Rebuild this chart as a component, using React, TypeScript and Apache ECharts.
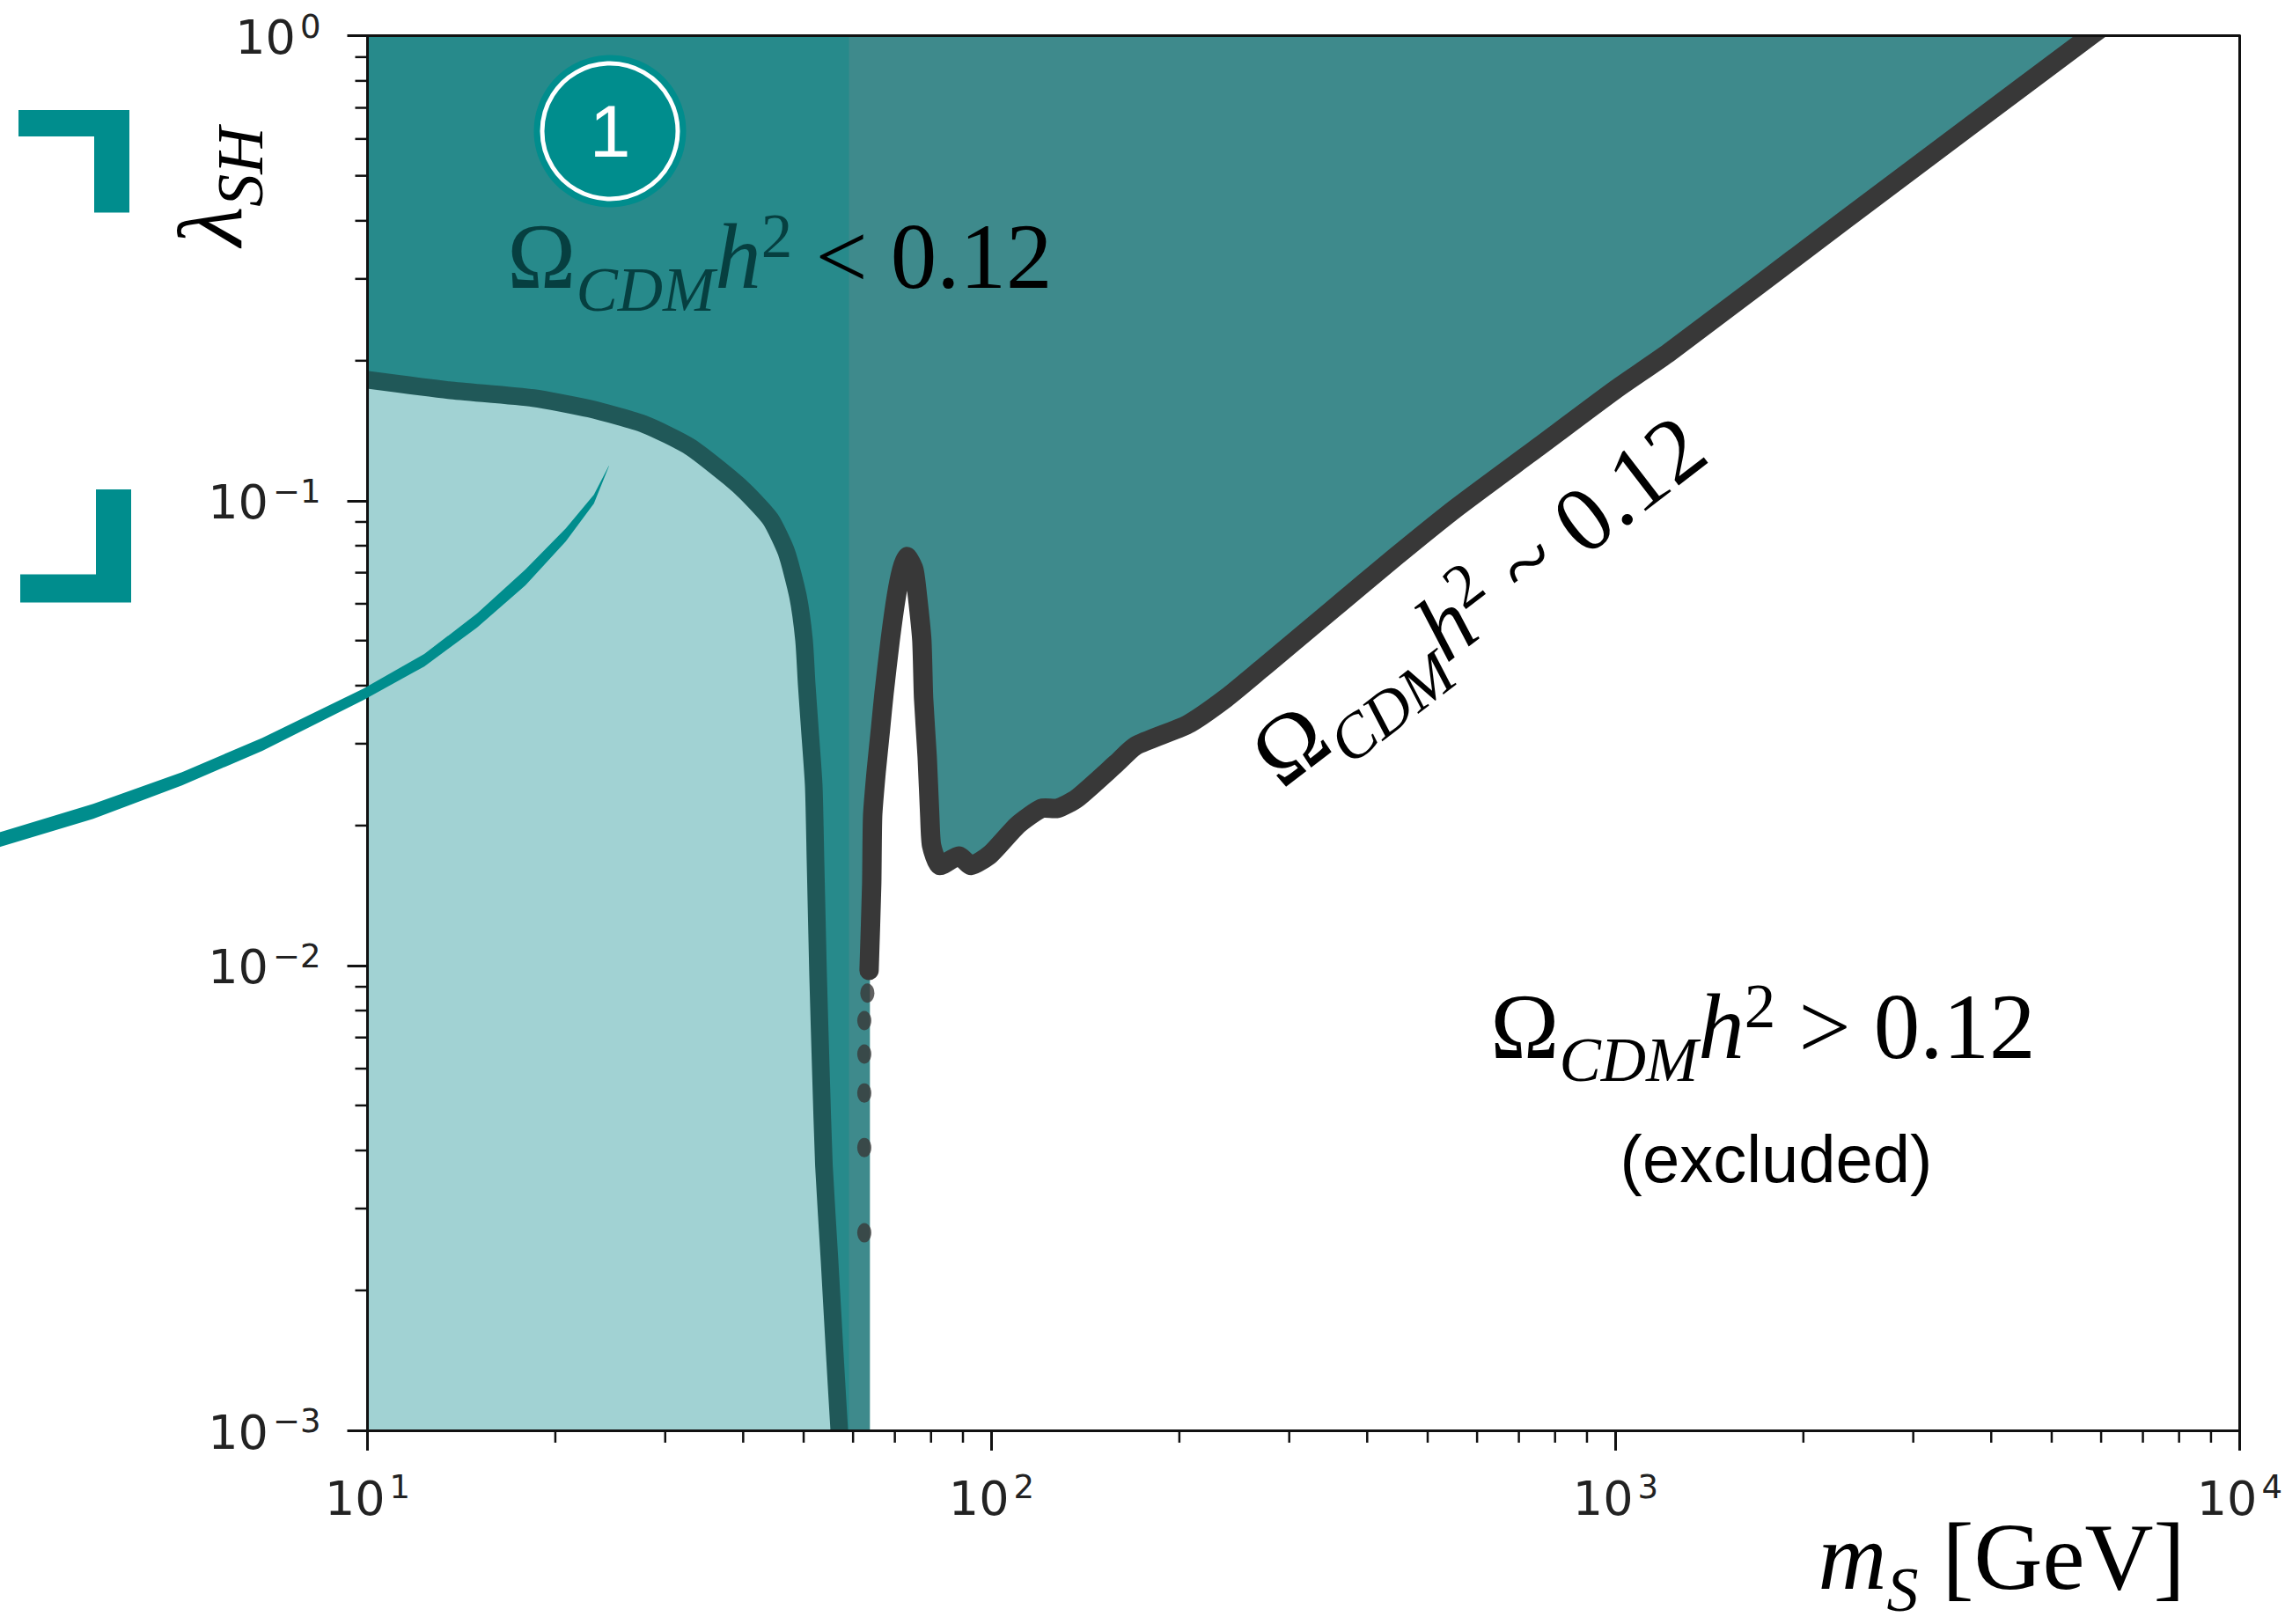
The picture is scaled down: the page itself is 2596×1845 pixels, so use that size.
import React, { useEffect, useRef } from "react";
import * as echarts from "echarts";

const xLimits = [10, 10000];
const yLimits = [0.001, 1];
const minorX = [20,30,40,50,60,70,80,90,200,300,400,500,600,700,800,900,2000,3000,4000,5000,6000,7000,8000,9000];
const minorY = [0.002,0.003,0.004,0.005,0.006,0.007,0.008,0.009,0.02,0.03,0.04,0.05,0.06,0.07,0.08,0.09,0.2,0.3,0.4,0.5,0.6,0.7,0.8,0.9];
const splitMass = 59.1;
const underlapMass = 59.6;
const regionFoot = 63.85;

const lowCurve: number[][] = [
  [10,0.182],[13.5,0.1729],[18.44,0.1662],[22.69,0.1577],[27.84,0.1458],[32.84,0.1307],
  [38.01,0.1123],[40.55,0.1038],[44.26,0.0911],[46.92,0.0775],[48.96,0.0623],[50.07,0.0501],
  [50.56,0.0403],[51.14,0.0324],[51.9,0.0243],[52.23,0.01684],[52.74,0.00951],[53.27,0.00597],
  [53.88,0.00372],[55.01,0.00232],[56.1,0.00145],[57.02,0.001],[57.3,0.00092],
];
const relicDots: number[][] = [
  [62.54,0.00266],[62.54,0.00406],[62.54,0.00532],[62.54,0.00645],[62.54,0.00761],[63.25,0.00872],
];
const relicCurve: number[][] = [
  [63.65,0.00976],[64.27,0.01491],[64.49,0.02094],[65.33,0.02605],[66.41,0.0324],[67.27,0.03857],
  [68.81,0.0501],[70.39,0.0623],[71.78,0.071],[73.18,0.0758],[75.12,0.071],[76.09,0.0623],
  [77.33,0.0501],[77.83,0.03757],[78.88,0.02805],[79.63,0.02094],[80.15,0.01814],[82.54,0.01641],
  [88.62,0.01721],[92.74,0.01641],[99.62,0.01736],[110.1,0.02005],[120.25,0.02178],[127.5,0.02178],
  [136.9,0.02286],[158.5,0.02721],[170.2,0.02969],[206.1,0.03299],[237.6,0.0376],[270.6,0.04342],
  [350.9,0.05815],[443.2,0.07556],[558,0.0969],[744.9,0.1292],[997.5,0.173],[1220,0.2086],
  [2349,0.405],[5769,1],[6361,1.1],
];
const arcMass = [2.296,2.581,3.635,5.045,6.786,9.856,12.33,14.98,17.91,20.79,23.06,24.37];
const arcUpper = [0.01839,0.01938,0.02228,0.02607,0.0309,0.03945,0.04677,0.05715,0.07107,0.08723,0.103,0.1189];
const arcLower = [0.01716,0.018,0.02069,0.02442,0.02895,0.03727,0.04399,0.0533,0.06571,0.08172,0.09858,0.1185];

const TEAL = "#008d8d";
const SERIF = "Liberation Serif";

const region = (name: string, points: number[][], fill: string, z: number, clip = true) => ({
  type: "custom", name, coordinateSystem: "cartesian2d", clip, z, silent: true,
  data: [[points[0][0], points[0][1]]],
  renderItem: (_p: any, api: any) => ({
    type: "polygon",
    shape: { points: points.map((d) => api.coord(d)) },
    style: { fill },
  }),
});

const curve = (name: string, points: number[][], stroke: string, lineWidth: number, z: number, smooth: number) => ({
  type: "custom", name, coordinateSystem: "cartesian2d", clip: true, z, silent: true,
  data: [[points[0][0], points[0][1]]],
  renderItem: (_p: any, api: any) => ({
    type: "polyline",
    shape: { points: points.map((d) => api.coord(d)), smooth },
    style: { stroke, lineWidth, fill: "none", lineCap: "round", lineJoin: "round" },
  }),
});

const math = (head: string, sub: string, sup: string, tail: string, F: number, headColor: string, tailColor: string) => {
  const sf = Math.round(F * 0.68);
  const p = Math.round(F * 0.19);
  const L = Math.round(F * 1.26);
  return {
    text: `{o|Ω}{c|${sub}}{h|${head}}{t|${sup}}{r|${tail}}`,
    rich: {
      o: { font: `${F}px "${SERIF}"`, fill: headColor, lineHeight: L - p, verticalAlign: "bottom", padding: [0, 0, p, 0] },
      c: { font: `italic ${sf}px "${SERIF}"`, fill: headColor, lineHeight: L, verticalAlign: "bottom" },
      h: { font: `italic ${F}px "${SERIF}"`, fill: headColor, lineHeight: L - p, verticalAlign: "bottom", padding: [0, 0, p, 0] },
      t: { font: `${sf}px "${SERIF}"`, fill: headColor, lineHeight: sf, verticalAlign: "top" },
      r: { font: `${F}px "${SERIF}"`, fill: tailColor, lineHeight: L - p, verticalAlign: "bottom", padding: [0, 0, p, 0] },
    },
  };
};

const tickFormatter = (v: number) => {
  const e = Math.round(Math.log10(v));
  return `{b|10}{s|${e < 0 ? "−" + -e : e}}`;
};
const tickRich = {
  b: { fontFamily: "DejaVu Sans", fontSize: 54, color: "#222", lineHeight: 58, verticalAlign: "bottom" },
  s: { fontFamily: "DejaVu Sans", fontSize: 37, color: "#222", lineHeight: 37, verticalAlign: "top", padding: [0, 0, 0, 5] },
};

export default function App() {
  const ref = useRef<HTMLDivElement>(null);
  useEffect(() => {
    document.body.style.margin = "0";
    const chart = echarts.init(ref.current!, undefined, { renderer: "svg" });
    const baseAxis = {
      type: "log", logBase: 10, z: 10,
      axisLine: { show: true, onZero: false, lineStyle: { color: "#111", width: 3 } },
      splitLine: { show: false }, minorTick: { show: false },
    };
    const option: any = {
      animation: false,
      backgroundColor: "#fff",
      grid: { left: 417.5, top: 40.7, width: 2129.2, height: 1584.3, containLabel: false },
      xAxis: [
        { ...baseAxis, min: xLimits[0], max: xLimits[1], position: "bottom",
          axisTick: { show: true, length: 23, lineStyle: { color: "#111", width: 3 } },
          axisLabel: { formatter: tickFormatter, rich: tickRich, margin: 46, showMinLabel: true, showMaxLabel: true } },
        { ...baseAxis, min: xLimits[0], max: xLimits[1], position: "top", axisTick: { show: false }, axisLabel: { show: false } },
      ],
      yAxis: [
        { ...baseAxis, min: yLimits[0], max: yLimits[1], position: "left",
          axisTick: { show: true, length: 23, lineStyle: { color: "#111", width: 3 } },
          axisLabel: { formatter: tickFormatter, rich: tickRich, margin: 53, showMinLabel: true, showMaxLabel: true } },
        { ...baseAxis, min: yLimits[0], max: yLimits[1], position: "right", axisTick: { show: false }, axisLabel: { show: false } },
      ],
      series: [
        region("underabundant", [[xLimits[0], yLimits[0]], [underlapMass, yLimits[0]], [underlapMass, yLimits[1]], [xLimits[0], yLimits[1]]], "#278a8b", 1),
        region("direct detection allowed", [[10.05, yLimits[0]], ...lowCurve.map((d, i) => (i === 0 ? [10.05, d[1]] : d))], "#a1d2d3", 2),
        region("high mass", [[splitMass, yLimits[0]], [regionFoot, yLimits[0]], [regionFoot, relicCurve[0][1]], ...relicCurve, [splitMass, yLimits[1]]], "#3e8a8c", 2),
        curve("low curve", lowCurve, "#205858", 20, 3, 0.2),
        curve("relic curve", relicCurve, "#383838", 22, 4, 0.2),
        { type: "scatter", name: "relic points", data: relicDots, symbol: "circle", symbolSize: [16, 22], z: 4, itemStyle: { color: "#383838" } },
        region("arc", [...arcMass.map((m, i) => [m, arcUpper[i]]), ...arcMass.map((m, i) => [m, arcLower[i]]).reverse()], TEAL, 12, false),
        {
          type: "custom", name: "minor x ticks", coordinateSystem: "cartesian2d", clip: false, z: 11, silent: true,
          data: minorX.map((v) => [v, yLimits[0]]),
          renderItem: (_p: any, api: any) => {
            const c = api.coord([api.value(0), yLimits[0]]);
            return { type: "line", shape: { x1: c[0], y1: c[1], x2: c[0], y2: c[1] + 14 }, style: { stroke: "#111", lineWidth: 2.5 } };
          },
        },
        {
          type: "custom", name: "minor y ticks", coordinateSystem: "cartesian2d", clip: false, z: 11, silent: true,
          data: minorY.map((v) => [xLimits[0], v]),
          renderItem: (_p: any, api: any) => {
            const c = api.coord([xLimits[0], api.value(1)]);
            return { type: "line", shape: { x1: c[0], y1: c[1], x2: c[0] - 14, y2: c[1] }, style: { stroke: "#111", lineWidth: 2.5 } };
          },
        },
      ],
      graphic: {
        z: 100,
        elements: [
          { type: "polygon", z: 100, shape: { points: [[21,125],[147,125],[147,241.5],[107,241.5],[107,155],[21,155]] }, style: { fill: TEAL } },
          { type: "polygon", z: 100, shape: { points: [[109,556],[149,556],[149,684.6],[23,684.6],[23,652.5],[109,652.5]] }, style: { fill: TEAL } },
          { type: "circle", z: 100, shape: { cx: 693, cy: 149, r: 86.5 }, style: { fill: TEAL } },
          { type: "circle", z: 101, shape: { cx: 693, cy: 149, r: 77 }, style: { fill: TEAL, stroke: "#fff", lineWidth: 5 } },
          { type: "text", z: 102, x: 693, y: 149, style: { text: "1", font: '84px "Liberation Sans"', fill: "#fff", align: "center", verticalAlign: "middle" } },
          { type: "text", z: 102, x: 886, y: 298, style: { ...math("h", "CDM", "2", " < 0.12", 105, "#063f40", "#000"), align: "center", verticalAlign: "middle" } },
          { type: "text", z: 102, x: 1683, y: 687, rotation: 0.655, originX: 0, originY: 0, style: { ...math("h", "CDM", "2", " ~ 0.12", 105, "#000", "#000"), align: "center", verticalAlign: "middle" } },
          { type: "text", z: 102, x: 2003, y: 1173, style: { ...math("h", "CDM", "2", " > 0.12", 105, "#000", "#000"), align: "center", verticalAlign: "middle" } },
          { type: "text", z: 102, x: 2018, y: 1316, style: { text: "(excluded)", font: '76px "Liberation Sans"', fill: "#000", align: "center", verticalAlign: "middle" } },
          { type: "text", z: 102, x: 248, y: 212, rotation: Math.PI / 2, style: {
            text: "{l|λ}{s|SH}", align: "center", verticalAlign: "middle",
            rich: {
              l: { font: `italic 104px "${SERIF}"`, fill: "#000", lineHeight: 104, verticalAlign: "bottom", padding: [0, 0, 20, 0] },
              s: { font: `italic 74px "${SERIF}"`, fill: "#000", lineHeight: 124, verticalAlign: "bottom" },
            } } },
          { type: "text", z: 102, x: 2274, y: 1778, style: {
            text: "{m|m}{s|S}{r| [GeV]}", align: "center", verticalAlign: "middle",
            rich: {
              m: { font: `italic 108px "${SERIF}"`, fill: "#000", lineHeight: 108, verticalAlign: "bottom", padding: [0, 0, 20, 0] },
              s: { font: `italic 72px "${SERIF}"`, fill: "#000", lineHeight: 128, verticalAlign: "bottom" },
              r: { font: `108px "${SERIF}"`, fill: "#000", lineHeight: 108, verticalAlign: "bottom", padding: [0, 0, 20, 0] },
            } } },
        ],
      },
    };
    chart.setOption(option);
    return () => chart.dispose();
  }, []);
  return <div ref={ref} style={{ position: "absolute", left: 0, top: 0, width: 2596, height: 1845 }} />;
}
